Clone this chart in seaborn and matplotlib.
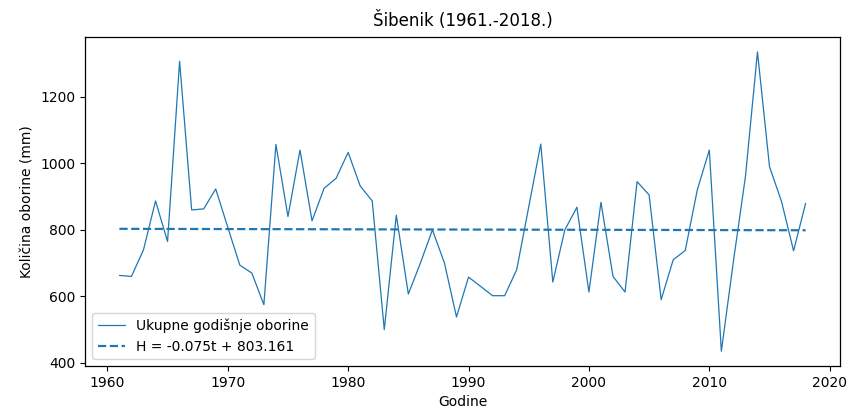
import numpy as np
import pandas as pd
import matplotlib
matplotlib.use("Agg")
import matplotlib.pyplot as plt
import seaborn as sns

years = list(range(1961, 2019))
precip = [663, 660, 740, 887, 765, 1307, 860, 863, 923, 808,
          694, 670, 575, 1057, 840, 1040, 827, 925, 955, 1033,
          932, 887, 500, 844, 607, 700, 800, 700, 538, 658,
          630, 602, 602, 680, 869, 1058, 643, 800, 868, 613,
          883, 660, 613, 945, 905, 590, 710, 738, 920, 1040,
          435, 705, 960, 1335, 990, 885, 737, 880]
trend_slope = -0.075
trend_intercept = 803.161

title = "Šibenik (1961.-2018.)"
xlabel = "Godine"
ylabel = "Količina oborine (mm)"
label_data = "Ukupne godišnje oborine"
label_trend = "H = -0.075t + 803.161"

sns.set_style("ticks", {"axes.edgecolor": "black", "text.color": "black",
                        "axes.labelcolor": "black", "xtick.color": "black",
                        "ytick.color": "black"})
plt.rcParams['font.family'] = ['DejaVu Sans']

t = np.arange(1, len(years) + 1)
df = pd.DataFrame({"Godina": years, "Oborina": precip,
                   "Trend": trend_intercept + trend_slope * t})

fig = plt.figure(figsize=(8.51, 4.11), dpi=100)
ax = fig.add_axes([0.1, 0.109, 0.887, 0.801])
sns.lineplot(data=df, x="Godina", y="Oborina", ax=ax, color="#1f77b4",
             linewidth=0.9, label=label_data)
sns.lineplot(data=df, x="Godina", y="Trend", ax=ax, color="#1f77b4",
             linewidth=1.6, linestyle="--", label=label_trend)
ax.set_title(title, fontsize=12, color="black", pad=8)
ax.set_xlabel(xlabel, fontsize=10, color="black")
ax.set_ylabel(ylabel, fontsize=10, color="black")
ax.set_xticks([1960, 1970, 1980, 1990, 2000, 2010, 2020])
ax.set_yticks([400, 600, 800, 1000, 1200])
ax.tick_params(labelsize=10, colors="black")
for s in ax.spines.values():
    s.set_visible(True)
    s.set_color("black")
    s.set_linewidth(0.9)
leg = ax.legend(loc="lower left", fontsize=10)
for txt in leg.get_texts():
    txt.set_color("black")
fig.savefig("out.png", dpi=100)
